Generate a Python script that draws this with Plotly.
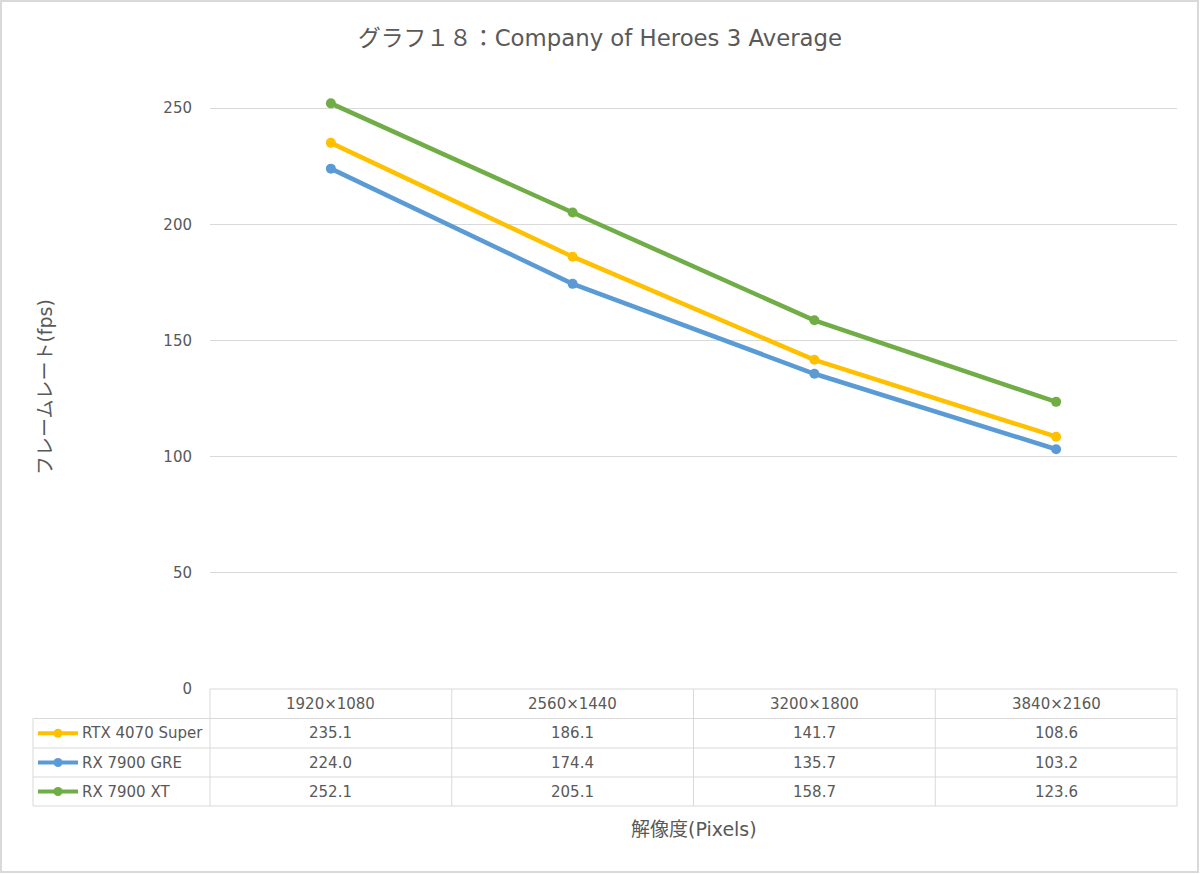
import plotly.graph_objects as go

categories = ["1920×1080", "2560×1440", "3200×1800", "3840×2160"]
series_names = ["RTX 4070 Super", "RX 7900 GRE", "RX 7900 XT"]
rtx4070s = [235.1, 186.1, 141.7, 108.6]
rx7900gre = [224.0, 174.4, 135.7, 103.2]
rx7900xt = [252.1, 205.1, 158.7, 123.6]
y_ticks = [0, 50, 100, 150, 200, 250]

series_values = [rtx4070s, rx7900gre, rx7900xt]
colors = ["#FFC000", "#5B9BD5", "#70AD47"]

W, H = 1200, 874
L, R, T, B = 210, 1177, 85, 689  # plot area in pixels
PW, PH = R - L, B - T
FONT = "DejaVu Sans, Noto Sans CJK JP, sans-serif"
TXT = "#595959"
GRID = "#D9D9D9"


def px_x(p):
    return (p - L) / PW


def px_y(p):
    return (B - p) / PH


fig = go.Figure()
for name, vals, c in zip(series_names, series_values, colors):
    fig.add_trace(go.Scatter(
        x=categories, y=vals, name=name, mode="lines+markers",
        line=dict(color=c, width=4.5),
        marker=dict(color=c, size=10),
        showlegend=False,
    ))

shapes = []
annotations = []

# data table geometry
row_edges = [689, 718.5, 748, 777, 806]
left_edge = 33
n = len(categories)

shapes.append(dict(type="line", xref="x", yref="paper", x0=-0.5, x1=n - 0.5,
                   y0=px_y(row_edges[0]), y1=px_y(row_edges[0]),
                   line=dict(color=GRID, width=1)))
for ry in row_edges[1:]:
    shapes.append(dict(type="line", xref="paper", yref="paper", x0=px_x(left_edge), x1=1,
                       y0=px_y(ry), y1=px_y(ry), line=dict(color=GRID, width=1)))
for i in range(n + 1):
    shapes.append(dict(type="line", xref="paper", yref="paper", x0=i / n, x1=i / n,
                       y0=px_y(row_edges[0]), y1=px_y(row_edges[-1]),
                       line=dict(color=GRID, width=1)))
shapes.append(dict(type="line", xref="paper", yref="paper", x0=px_x(left_edge), x1=px_x(left_edge),
                   y0=px_y(row_edges[1]), y1=px_y(row_edges[-1]),
                   line=dict(color=GRID, width=1)))

for i, cat in enumerate(categories):
    annotations.append(dict(x=cat, xref="x", yref="paper",
                            y=px_y((row_edges[0] + row_edges[1]) / 2),
                            text=cat, showarrow=False, xanchor="center", yanchor="middle",
                            font=dict(family=FONT, size=15, color=TXT)))

for r, (name, vals, c) in enumerate(zip(series_names, series_values, colors)):
    cy = px_y((row_edges[r + 1] + row_edges[r + 2]) / 2)
    for cat, v in zip(categories, vals):
        annotations.append(dict(x=cat, xref="x", yref="paper", y=cy,
                                text=f"{v:.1f}", showarrow=False, xanchor="center", yanchor="middle",
                                font=dict(family=FONT, size=15, color=TXT)))
    annotations.append(dict(x=px_x(80), xref="paper", yref="paper", y=cy, text=name,
                            showarrow=False, xanchor="left", yanchor="middle",
                            font=dict(family=FONT, size=15, color=TXT)))
    shapes.append(dict(type="line", xref="paper", yref="paper", x0=px_x(38), x1=px_x(78),
                       y0=cy, y1=cy, line=dict(color=c, width=4)))
    shapes.append(dict(type="circle", xref="paper", yref="paper",
                       x0=px_x(53.5), x1=px_x(62.5), y0=cy - 4.5 / PH, y1=cy + 4.5 / PH,
                       fillcolor=c, line=dict(color=c, width=0)))

annotations.append(dict(x=0.5, xref="paper", y=px_y(829), yref="paper", text="解像度(Pixels)",
                        showarrow=False, xanchor="center", yanchor="middle",
                        font=dict(family=FONT, size=19, color=TXT)))
annotations.append(dict(x=px_x(45), xref="paper", y=0.5, yref="paper", text="フレームレート(fps)",
                        textangle=-90, showarrow=False, xanchor="center", yanchor="middle",
                        font=dict(family=FONT, size=19, color=TXT)))

shapes.append(dict(type="rect", xref="paper", yref="paper",
                   x0=px_x(1), x1=px_x(W - 2), y0=px_y(H - 2), y1=px_y(1),
                   line=dict(color="#D9D9D9", width=2), fillcolor="rgba(0,0,0,0)"))

fig.update_layout(
    width=W, height=H,
    margin=dict(l=L, r=W - R, t=T, b=H - B, pad=0),
    paper_bgcolor="white", plot_bgcolor="white",
    title=dict(text="グラフ１８：Company of Heroes 3 Average", x=0.5, xanchor="center",
               y=1 - 38 / H, yanchor="middle",
               font=dict(family=FONT, size=22.8, color=TXT)),
    xaxis=dict(type="category", range=[-0.5, n - 0.5], showticklabels=False,
               showgrid=False, zeroline=False, showline=False, ticks=""),
    yaxis=dict(range=[0, 260], tickvals=y_ticks, showgrid=True, gridcolor=GRID, gridwidth=1,
               zeroline=False, showline=False, ticks="", ticklabelstandoff=17,
               tickfont=dict(family=FONT, size=15, color=TXT)),
    shapes=shapes,
    annotations=annotations,
)

fig.write_html("out.html", config={"displayModeBar": False},
               post_script="document.body.style.margin='0';document.body.style.padding='0';")
